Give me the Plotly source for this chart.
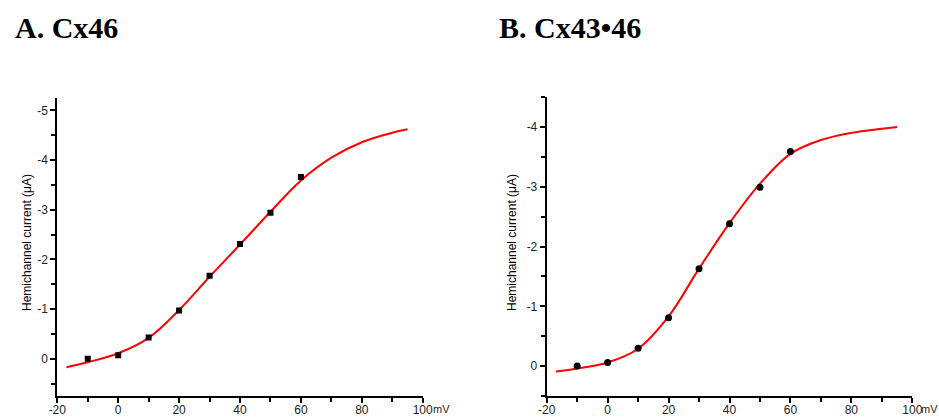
import plotly.graph_objects as go

W, H = 939, 417

# ---- data ----
volt_pts = [-10, 0, 10, 20, 30, 40, 50, 60]
cx46_pts = [0.0, -0.07, -0.43, -0.97, -1.67, -2.31, -2.94, -3.66]
cx4346_pts = [0.0, -0.06, -0.30, -0.81, -1.63, -2.38, -2.99, -3.59]

fit_v = [-17, -10, 0, 10, 20, 30, 40, 50, 60, 70, 80, 90, 95]
cx46_fit = [0.17, 0.07, -0.11, -0.42, -0.98, -1.65, -2.30, -2.96, -3.59, -4.05, -4.36, -4.55, -4.62]
cx4346_fit = [0.09, 0.04, -0.06, -0.29, -0.83, -1.63, -2.39, -3.05, -3.55, -3.78, -3.90, -3.97, -4.00]

x_tickvals = [-20, 0, 20, 40, 60, 80, 100]
x_ticktext = ["-20", "0", "20", "40", "60", "80", "100"]
x_minor = [-10, 10, 30, 50, 70, 90]

yA_tickvals = [0, -1, -2, -3, -4, -5]
yA_ticktext = ["0", "-1", "-2", "-3", "-4", "-5"]
yA_minor = [0.5, -0.5, -1.5, -2.5, -3.5, -4.5]
yB_tickvals = [0, -1, -2, -3, -4]
yB_ticktext = ["0", "-1", "-2", "-3", "-4"]
yB_minor = [0.5, -0.5, -1.5, -2.5, -3.5, -4.5]

titles = ["A. Cx46", "B. Cx43•46"]
y_title = "Hemichannel current (μA)"
x_unit = "mV"


def px(x):
    return x / W


def py(y):
    return (H - y) / H


fig = go.Figure()

line_style = dict(color="#ff0000", width=2, shape="spline", smoothing=1.0)
fig.add_trace(go.Scatter(x=fit_v, y=cx46_fit, mode="lines", line=line_style,
                         xaxis="x", yaxis="y", showlegend=False))
fig.add_trace(go.Scatter(x=volt_pts, y=cx46_pts, mode="markers", marker=dict(symbol="square", size=6, color="black"),
                         xaxis="x", yaxis="y", showlegend=False))
fig.add_trace(go.Scatter(x=fit_v, y=cx4346_fit, mode="lines", line=line_style,
                         xaxis="x2", yaxis="y2", showlegend=False))
fig.add_trace(go.Scatter(x=volt_pts, y=cx4346_pts, mode="markers", marker=dict(symbol="circle", size=7, color="black"),
                         xaxis="x2", yaxis="y2", showlegend=False))

tickfont = dict(family="Liberation Sans, Arial", size=12, color="#222222")
unitfont = dict(family="Liberation Sans, Arial", size=11, color="#222222")

common_x = dict(range=[-20, 100], showline=True, linecolor="black", linewidth=2, showgrid=False, zeroline=False,
                ticks="outside", ticklen=5, tickwidth=1.5, tickcolor="black", tickmode="array",
                tickvals=x_tickvals, ticktext=x_ticktext, tickfont=tickfont, automargin=False,
                ticklabelstandoff=-3,
                minor=dict(tickmode="array", tickvals=x_minor, ticks="outside", ticklen=4, tickwidth=1.5, tickcolor="black"))

yA_dom = [py(396), py(98)]
yB_dom = [py(396), py(97)]

fig.update_layout(
    width=W, height=H,
    margin=dict(l=0, r=0, t=0, b=0),
    paper_bgcolor="white", plot_bgcolor="white",
    xaxis=dict(domain=[px(57.3), px(422.7)], anchor="y", **common_x),
    xaxis2=dict(domain=[px(546.7), px(912.3)], anchor="y2", **common_x),
    yaxis=dict(domain=yA_dom, anchor="x", range=[0.75, -5.25], showline=True, linecolor="black", linewidth=2,
               showgrid=False, zeroline=False, ticks="outside", ticklen=5, tickwidth=1.5, tickcolor="black",
               tickmode="array", tickvals=yA_tickvals, ticktext=yA_ticktext, tickfont=tickfont, automargin=False,
               minor=dict(tickmode="array", tickvals=yA_minor, ticks="outside", ticklen=4, tickwidth=1.5, tickcolor="black")),
    yaxis2=dict(domain=yB_dom, anchor="x2", range=[0.5, -4.5], showline=True, linecolor="black", linewidth=2,
                showgrid=False, zeroline=False, ticks="outside", ticklen=5, tickwidth=1.5, tickcolor="black",
                tickmode="array", tickvals=yB_tickvals, ticktext=yB_ticktext, tickfont=tickfont, automargin=False,
                minor=dict(tickmode="array", tickvals=yB_minor, ticks="outside", ticklen=4, tickwidth=1.5, tickcolor="black")),
)

annotations = [
    dict(text="<b>%s</b>" % titles[0], x=px(13), y=py(27), xref="paper", yref="paper", xanchor="left", yanchor="middle",
         showarrow=False, font=dict(family="Liberation Serif, Times New Roman", size=30, color="black")),
    dict(text="<b>%s</b>" % titles[1], x=px(497), y=py(27), xref="paper", yref="paper", xanchor="left", yanchor="middle",
         showarrow=False, font=dict(family="Liberation Serif, Times New Roman", size=30, color="black")),
    dict(text=y_title, x=px(27), y=py(243), xref="paper", yref="paper", xanchor="center", yanchor="middle",
         textangle=-90, showarrow=False, font=dict(family="Liberation Sans, Arial", size=12, color="black")),
    dict(text=y_title, x=px(512), y=py(243), xref="paper", yref="paper", xanchor="center", yanchor="middle",
         textangle=-90, showarrow=False, font=dict(family="Liberation Sans, Arial", size=12, color="black")),
    dict(text=x_unit, x=100, y=py(409), xref="x", yref="paper", xanchor="left", yanchor="middle", xshift=8,
         showarrow=False, font=unitfont),
    dict(text=x_unit, x=100, y=py(409), xref="x2", yref="paper", xanchor="left", yanchor="middle", xshift=7,
         showarrow=False, font=unitfont),
]
fig.update_layout(annotations=annotations)

fig.write_html("out.html")
